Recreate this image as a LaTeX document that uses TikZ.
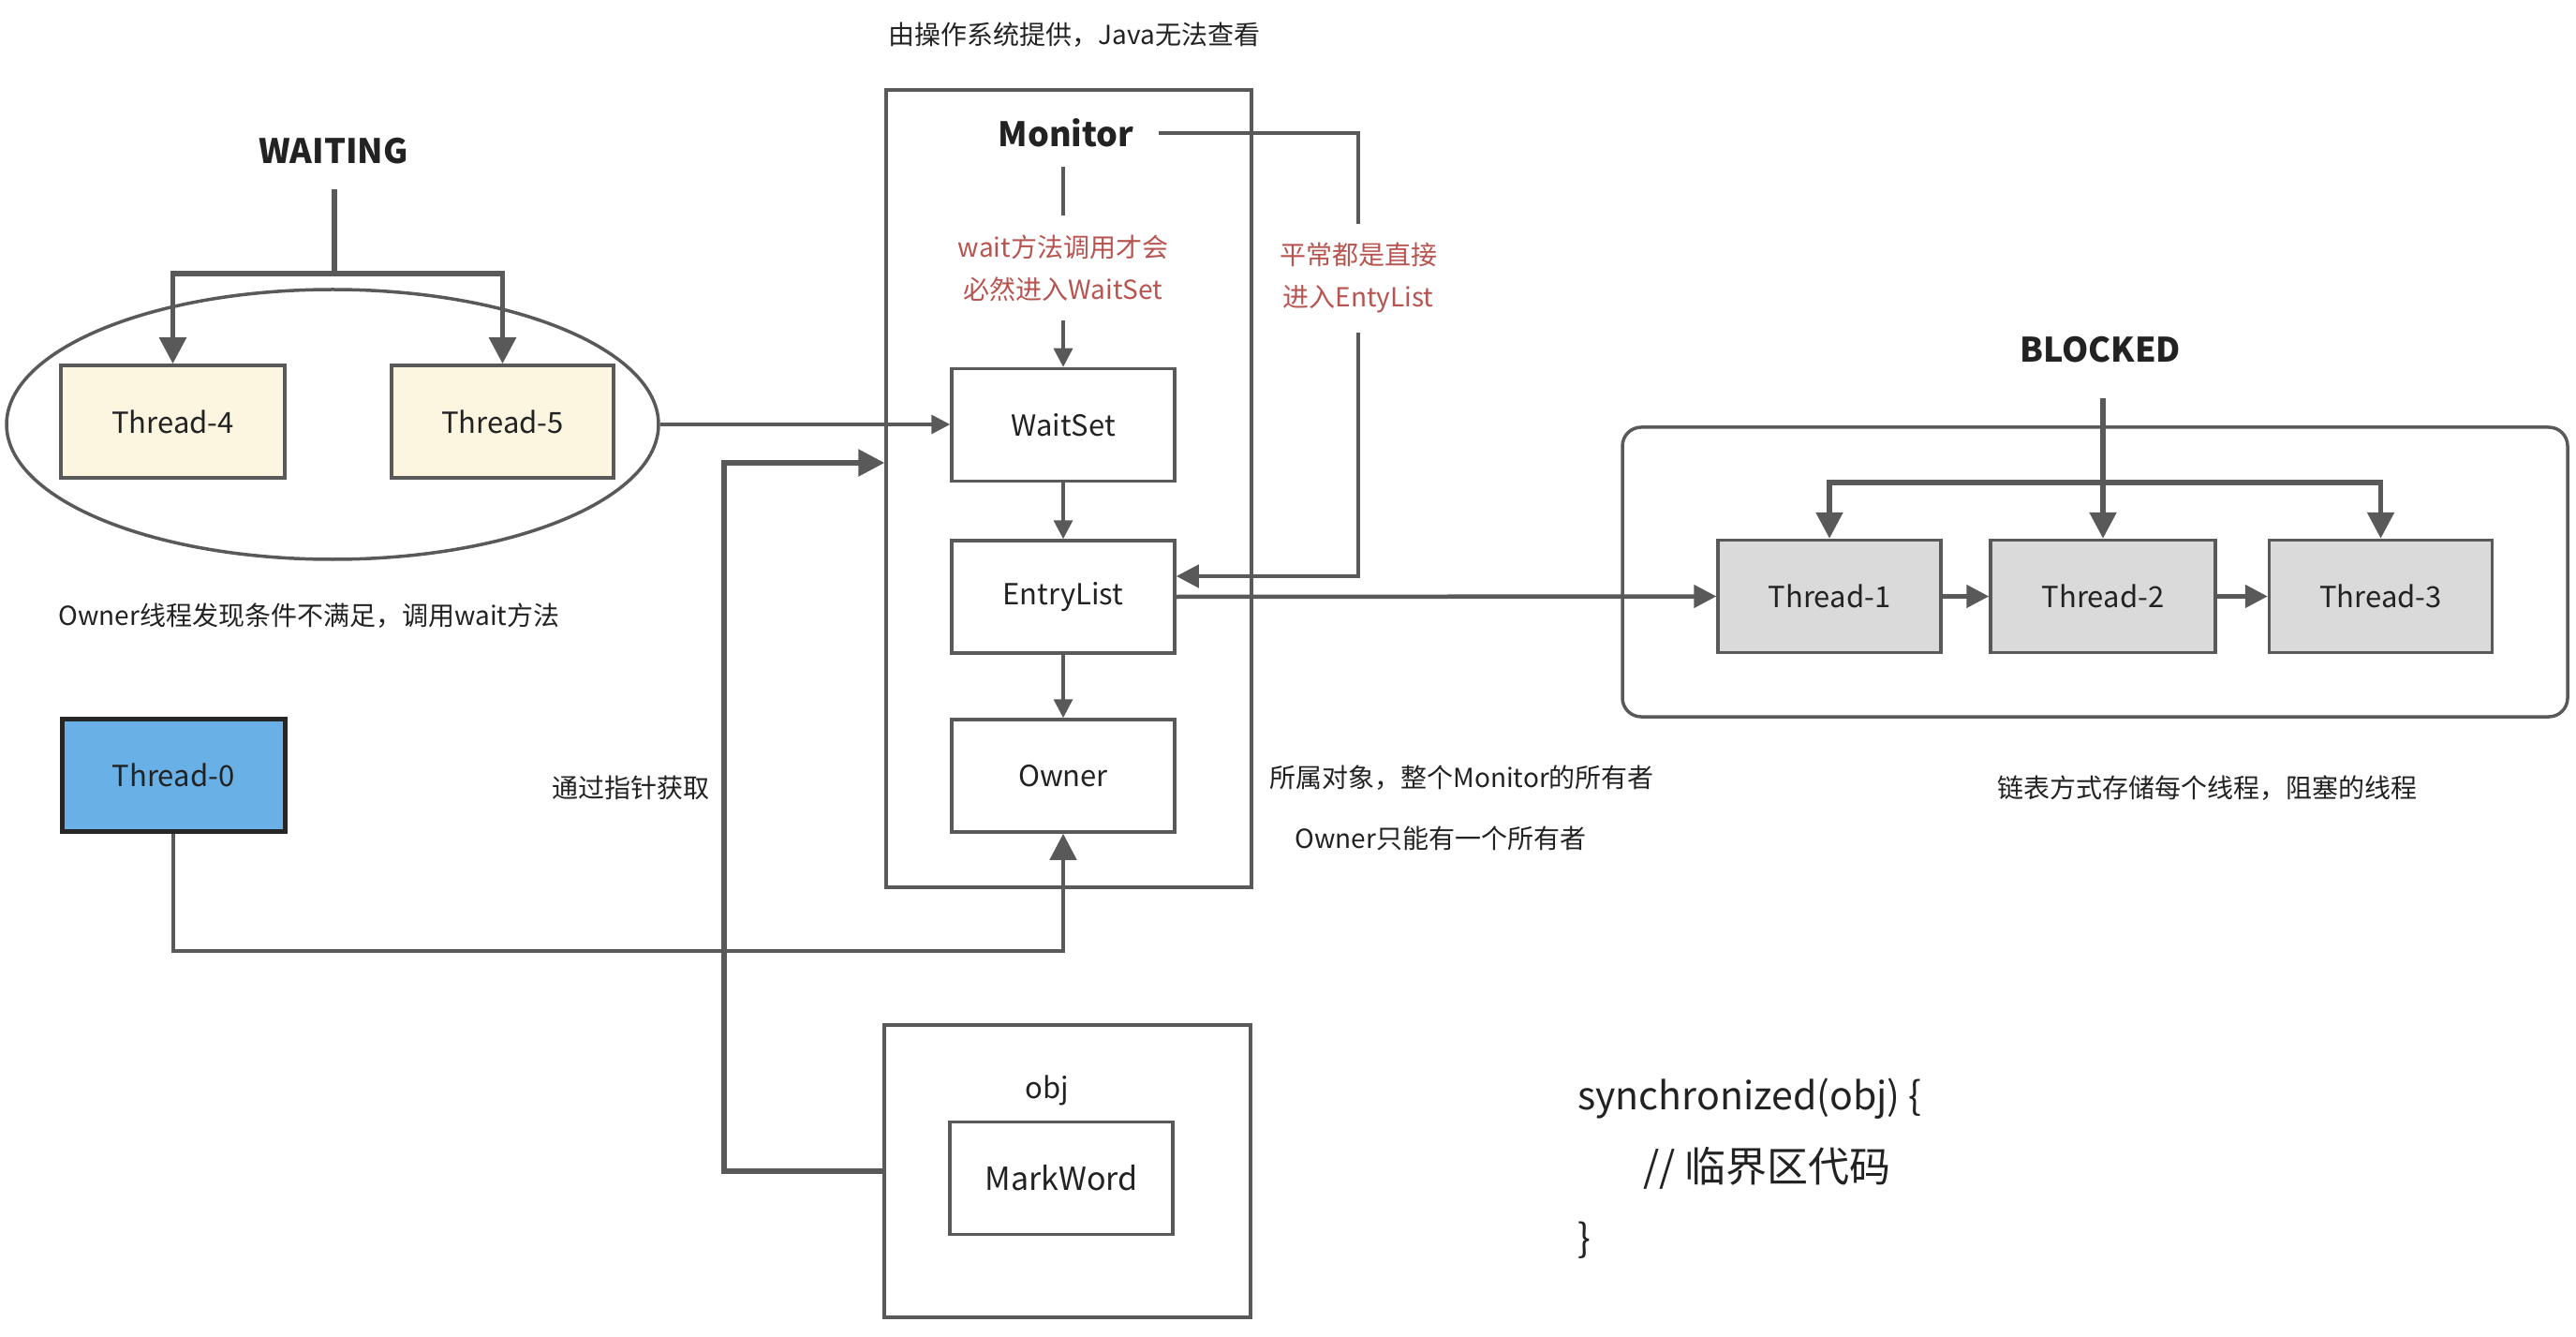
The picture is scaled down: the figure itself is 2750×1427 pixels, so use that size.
\documentclass[tikz,border=0pt]{standalone}
\usepackage{fontspec}
\setmainfont{Noto Sans CJK SC}
\usetikzlibrary{arrows.meta,shapes.geometric,calc}
\definecolor{ln}{HTML}{595959}
\definecolor{rd}{HTML}{B85450}
\definecolor{cream}{HTML}{FCF5E0}
\definecolor{gr}{HTML}{DADADA}
\definecolor{bl}{HTML}{68B0E5}
\definecolor{tx}{HTML}{222222}
\tikzset{
  box/.style={draw=ln, line width=1.75pt, minimum width=119pt, minimum height=60pt, inner sep=0pt,
    font=\fontsize{15.5pt}{18pt}\selectfont, text=tx},
  frame/.style={draw=ln, line width=1.75pt, inner sep=0pt},
  lbl/.style={font=\fontsize{14pt}{22.5pt}\selectfont, text=tx, inner sep=0pt},
  redlbl/.style={font=\fontsize{14pt}{22.5pt}\selectfont, text=rd, align=center, inner sep=10pt},
  boldlbl/.style={font=\fontsize{18pt}{22pt}\selectfont\bfseries, text=tx, inner sep=0pt},
  codelbl/.style={font=\fontsize{20.5pt}{24pt}\selectfont, text=tx, inner sep=0pt},
  thinln/.style={draw=ln, line width=1.75pt},
  midln/.style={draw=ln, line width=2.25pt},
  thickln/.style={draw=ln, line width=2.75pt},
  smallarr/.style={-{Triangle[length=10pt,width=10pt]}},
  medarr/.style={-{Triangle[length=12pt,width=12pt]}},
  bigarr/.style={-{Triangle[length=14pt,width=14pt]}},
}
\begin{document}
\begin{tikzpicture}[x=0.5pt,y=-0.5pt]
\fill[white] (0,0) rectangle (2750,1427);
\useasboundingbox (0,0) rectangle (2750,1427);

% title
\node[lbl] (title) at (1147,37) {由操作系统提供，Java无法查看};

% Monitor frame
\node[frame, minimum width=195pt, minimum height=425.5pt] (mon) at (1141,521.5) {};
\node[boldlbl] (monl) at (1138,142) {Monitor};

% WAITING group
\node[boldlbl] (wait) at (356,161) {WAITING};
\node[ellipse, draw=ln, line width=1.75pt, minimum width=348pt, minimum height=144pt, inner sep=0pt] (wg) at (355,453) {};
\node[box, fill=cream, minimum width=119.5pt] (t4) at (184.5,450) {Thread-4};
\node[box, fill=cream, minimum width=118.5pt] (t5) at (536.5,450) {Thread-5};

% Monitor inner boxes
\node[box] (ws) at (1135,453.5) {WaitSet};
\node[box] (el) at (1135,637) {EntryList};
\node[box] (ow) at (1135,828) {Owner};

% Thread-0
\node[box, fill=bl, draw=black!85, line width=2.5pt] (t0) at (185,827.5) {Thread-0};

% obj
\node[frame, minimum width=195.5pt, minimum height=156pt] (obj) at (1139.5,1250) {};
\node[lbl, font=\fontsize{15.5pt}{18pt}\selectfont] (objl) at (1118,1164) {obj};
\node[box, font=\fontsize{17pt}{20pt}\selectfont] (mw) at (1133,1257.5) {MarkWord};

% BLOCKED group
\node[frame, rounded corners=10pt, minimum width=504.5pt, minimum height=154.5pt] (bc) at (2236.5,610.5) {};
\node[boldlbl] (blk) at (2242,373) {BLOCKED};
\node[box, fill=gr] (t1) at (1953,636.5) {Thread-1};
\node[box, fill=gr, minimum width=120pt] (t2) at (2245,636.5) {Thread-2};
\node[box, fill=gr] (t3) at (2541.5,636.5) {Thread-3};

% texts
\node[lbl, anchor=west] (n1) at (62,657) {Owner线程发现条件不满足，调用wait方法};
\node[lbl] (n2) at (673,841) {通过指针获取};
\node[lbl, anchor=west] (n3) at (1355,830) {所属对象，整个Monitor的所有者};
\node[lbl, anchor=west] (n4) at (1382,895) {Owner只能有一个所有者};
\node[lbl] (n5) at (2356,841) {链表方式存储每个线程，阻塞的线程};
\node[redlbl] (r1) at (1135,286) {wait方法调用才会\\必然进入WaitSet};
\node[redlbl] (r2) at (1450,297) {平常都是直接\\进入EntyList};

\node[codelbl, anchor=west] (c1) at (1684,1173) {synchronized(obj) \{};
\node[codelbl, anchor=west, font=\fontsize{22pt}{26pt}\selectfont] (c2) at (1754,1247) {// 临界区代码};
\node[codelbl, anchor=west] (c3) at (1684,1324) {\}};

% connectors: WAITING
\coordinate (wa) at (357,202);
\coordinate (wb) at (357,292);
\draw[thickln] (wa) -- (wb);
\draw[thickln, bigarr] (wb) -| (t4.north);
\draw[thickln, bigarr] (wb) -| (t5.north);
\draw[thinln, smallarr] (wg.east) -- (ws.west |- wg.east);

% Monitor -> WaitSet
\coordinate (m1) at (1135,178);
\draw[thinln] (m1) -- (r1.north);
\draw[thinln, smallarr] (r1.south) -- (ws.north);
\draw[thinln, smallarr] (ws) -- (el);
\draw[thinln, smallarr] (el) -- (ow);

% Monitor -> EntryList (right)
\coordinate (mr) at (1237,142);
\draw[midln] (mr) -| (r2.north);
\draw[midln, medarr] (r2.south) |- ($(el.east)+(0,-22)$);

% EntryList -> threads
\draw[midln, medarr] (el.east) -- (t1.west);
\draw[midln, medarr] (t1) -- (t2);
\draw[midln, medarr] (t2) -- (t3);

% BLOCKED
\coordinate (ba) at (2245,425);
\coordinate (bb) at (2245,515);
\draw[thickln, bigarr] (ba) -- (t2.north);
\draw[thickln, bigarr] (bb) -| (t1.north);
\draw[thickln, bigarr] (bb) -| (t3.north);

% Thread-0 -> Owner
\coordinate (tb) at (185,1015);
\draw[midln, bigarr] (t0.south) -- (tb) -| (ow.south);

% pointer
\coordinate (pa) at (773,494);
\draw[thickln, bigarr] (obj.west) -| (pa) -- (mon.west |- pa);
\end{tikzpicture}
\end{document}
